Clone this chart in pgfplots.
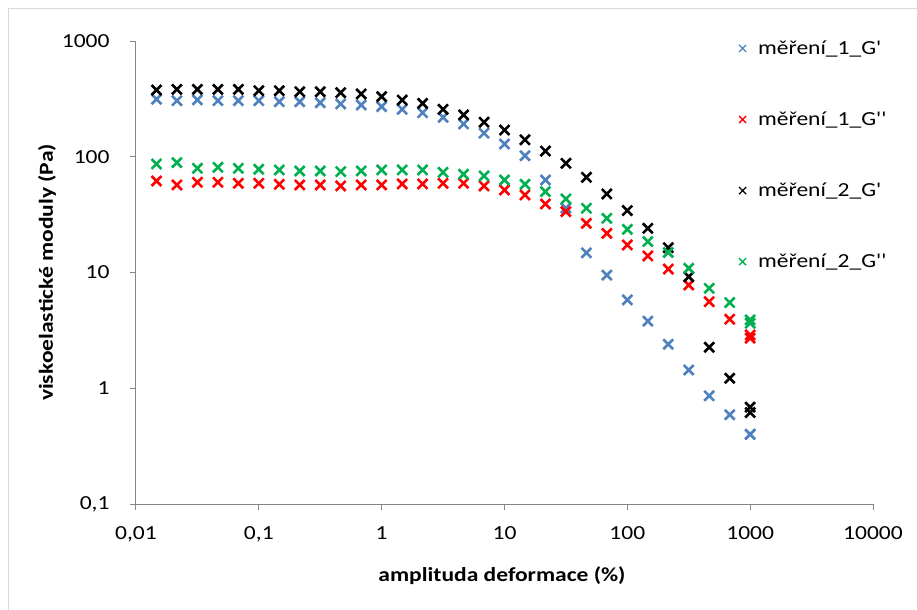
\documentclass[border=0pt]{standalone}
\usepackage{fontspec}
\setmainfont{Carlito}[FakeStretch=1.18, Ligatures=TeXOff]
\newfontfamily\plaincarlito{Carlito}[Ligatures=TeXOff]
\usepackage{graphicx}
\usepackage{pgfplots}
\usepackage{pgfplotstable}
\pgfplotsset{compat=1.18}
\definecolor{cblue}{HTML}{4F81BD}
\definecolor{cred}{HTML}{FF0000}
\definecolor{cgreen}{HTML}{00B050}
\definecolor{axgray}{HTML}{868686}
\definecolor{framegray}{HTML}{D9D9D9}

\pgfplotstableread{
x G1p G1pp G2p G2pp
0.01468 314 61.8 377 86.7
0.02154 305 57.1 382 89
0.03162 310 60.2 382 79.5
0.04642 305 60.2 382 81.1
0.06813 305 59 382 79.5
0.1 305 59 372 78
0.1468 299 57.8 372 76.9
0.2154 299 57.1 365 75.4
0.3162 293 57.1 365 75.4
0.4642 286 56 358 74.4
0.6813 280 57.1 349 75.4
1 271 57.1 331 76.9
1.468 257 58.2 309 76.9
2.154 240 58.2 289 76.9
3.162 219 59 257 73.4
4.642 192 59 230 70.6
6.813 160 56 199 68.3
10 129 51.7 170 63
14.68 102 46.8 140 57.8
21.54 63 39.1 112 50
31.62 36 33.6 87.8 43.2
46.42 14.8 26.6 66.5 35.9
68.13 9.5 21.8 47.7 29.4
100 5.8 17.3 34.3 23.6
146.8 3.8 13.9 24.1 18.5
215.4 2.4 10.7 16.4 14.9
316.2 1.44 7.8 9.2 10.9
464.2 0.86 5.6 2.26 7.3
681.3 0.59 3.95 1.22 5.5
1000 0.40 2.89 0.687 3.90
1000 0.40 2.71 0.617 3.65
}\datatable

\begin{document}
\begin{tikzpicture}[x=1bp,y=1bp]
\useasboundingbox (0,0) rectangle (917,-610);
\draw[color=framegray, line width=1bp] (8.5,-610) -- (8.5,-8.5) -- (917,-8.5);
\begin{axis}[
  at={(136bp,-504bp)}, anchor=south west,
  scale only axis, width=737bp, height=463bp,
  xmode=log, ymode=log,
  xmin=0.01, xmax=10000, ymin=0.1, ymax=1000,
  axis x line*=bottom, axis y line*=left,
  axis line style={-, color=axgray, line width=1bp},
  xtick={0.01,0.1,1,10,100,1000,10000},
  xticklabels={{0,01},{0,1},1,10,100,1000,10000},
  ytick={0.1,1,10,100,1000},
  yticklabels={{0,1},1,10,100,1000},
  xminorticks=false, yminorticks=false,
  xtick pos=left, ytick pos=left,
  tick align=outside, major tick length=6bp,
  tick style={color=axgray, line width=1bp},
  ticklabel style={font=\fontsize{20}{24}\selectfont, text=black},
  yticklabel style={xshift=-17bp},
  xticklabel style={yshift=-13bp},
  xlabel={amplituda deformace (\%)},
  every axis x label/.style={at={(axis description cs:0.4966,-0.1555)}, anchor=center},
  label style={font=\fontsize{20}{24}\selectfont\bfseries},
  legend style={draw=none, fill=none, at={(0.818,1.005)}, anchor=north west,
    font=\fontsize{20}{24}\selectfont, row sep=52bp, column sep=10bp, inner sep=0pt},
  legend cell align=left,
  clip=false,
]
\addplot[only marks, mark=x, mark size=7bp, line width=2.6bp, color=cblue,
  legend image post style={mark size=5bp, line width=1.3bp}] table[x=x,y=G1p] {\datatable};
\addlegendentry{měření\_1\_G'}
\addplot[only marks, mark=x, mark size=7bp, line width=2.6bp, color=cred,
  legend image post style={mark size=5bp, line width=1.3bp}] table[x=x,y=G1pp] {\datatable};
\addlegendentry{měření\_1\_G''}
\addplot[only marks, mark=x, mark size=7bp, line width=2.6bp, color=black,
  legend image post style={mark size=5bp, line width=1.3bp}] table[x=x,y=G2p] {\datatable};
\addlegendentry{měření\_2\_G'}
\addplot[only marks, mark=x, mark size=7bp, line width=2.6bp, color=cgreen,
  legend image post style={mark size=5bp, line width=1.3bp}] table[x=x,y=G2pp] {\datatable};
\addlegendentry{měření\_2\_G''}
\end{axis}
\node[rotate=90, font=\fontsize{20}{24}\selectfont\plaincarlito\bfseries, anchor=center, inner sep=0pt] at (47,-272.5) {\scalebox{1.18}[1]{viskoelastické moduly (Pa)}};
\end{tikzpicture}
\end{document}
